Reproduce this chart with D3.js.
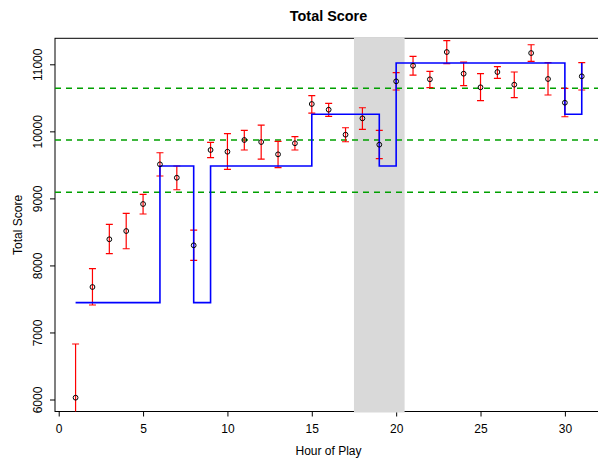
<!DOCTYPE html>
<html>
<head>
<meta charset="utf-8">
<script src="https://cdn.jsdelivr.net/npm/d3@7"></script>
<style>
  html, body { margin: 0; padding: 0; background: #fff; }
  svg text { font-family: "Liberation Sans", Arial, Helvetica, sans-serif; fill: #000; }
</style>
</head>
<body>
<svg id="chart" width="598" height="459"></svg>
<script>
// ---- data ----
const hours = [1,2,3,4,5,6,7,8,9,10,11,12,13,14,15,16,17,18,19,20,21,22,23,24,25,26,27,28,29,30,31];
const scores = [6027,7678,8390,8513,8916,9508,9308,8300,9722,9696,9871,9841,9657,9822,10408,10323,9950,10194,9801,10746,10979,10776,11183,10860,10657,10885,10696,11168,10781,10427,10821];
const upper  = [6828,7951,8613,8777,9061,9681,9483,8528,9836,9965,10015,10094,9851,9920,10532,10418,10054,10352,10015,10875,11119,10895,11352,11034,10860,10964,10885,11292,11024,10642,11024];
const lower  = [5226,7410,8175,8249,8767,9334,9129,8076,9607,9434,9722,9587,9458,9722,10273,10224,9845,10030,9592,10617,10840,10651,11009,10681,10457,10791,10502,11045,10542,10218,10617];
const stepX = [1,6,8,9,15,19,20,30,31];
const stepY = [7445,9483,7445,9483,10254,9483,11019,10254,11019];
const refLines = [10642,9871,9091];
const shadeRange = [17.5,20.5];
const xTicks = [0,5,10,15,20,25,30];
const yTicks = [6000,7000,8000,9000,10000,11000];
const titleText = "Total Score";
const xLabel = "Hour of Play";
const yLabel = "Total Score";

// ---- layout ----
const L = 55, R = 602, T = 38.3, B = 411.5;
const svg = d3.select("#chart");
const x = d3.scaleLinear().domain([-0.22, 32.2]).range([L, R]);
const y = d3.scaleLinear().domain([5821, 11388]).range([B, T]);

svg.append("defs").append("clipPath").attr("id","clip")
  .append("rect").attr("x",L).attr("y",T).attr("width",R-L).attr("height",B-T);

// axes
const xAxis = svg.append("g").attr("transform",`translate(0,${B})`)
  .call(d3.axisBottom(x).tickValues(xTicks).tickSize(5).tickPadding(9).tickFormat(d3.format("d")));
const yAxis = svg.append("g").attr("transform",`translate(${L},0)`)
  .call(d3.axisLeft(y).tickValues(yTicks).tickSize(5).tickFormat(d3.format("d")));
[xAxis,yAxis].forEach(g=>{
  g.select(".domain").remove();
  g.selectAll("line").attr("stroke","#000").attr("stroke-width",1);
  g.selectAll("text").attr("font-size","12px").attr("fill","#000")
   .style("font-family","'Liberation Sans', Arial, sans-serif");
});
xAxis.selectAll("text").attr("dy",null).attr("y",21.5);
yAxis.selectAll(".tick text").attr("x",0).attr("y",0).attr("dy",null)
  .attr("text-anchor","middle")
  .attr("transform","translate(-13.5,0) rotate(-90)");

// box
svg.append("rect").attr("x",L).attr("y",T).attr("width",R-L).attr("height",B-T)
  .attr("fill","none").attr("stroke","#000").attr("stroke-width",1);

// shaded region (covers the box lines)
svg.append("rect")
  .attr("x",x(shadeRange[0])).attr("width",x(shadeRange[1])-x(shadeRange[0]))
  .attr("y",T-1).attr("height",B-T+2)
  .attr("fill","#D9D9D9");

const plot = svg.append("g").attr("clip-path","url(#clip)");

// reference dashed lines
plot.selectAll(".ref").data(refLines).enter().append("line")
  .attr("x1",L).attr("x2",R).attr("y1",d=>y(d)).attr("y2",d=>y(d))
  .attr("stroke","#00A000").attr("stroke-width",1.5).attr("stroke-dasharray","6,5");

// error bars
const cap = 3.5;
const eb = plot.selectAll(".eb").data(hours).enter().append("g");
eb.append("line").attr("x1",(d)=>x(d)).attr("x2",(d)=>x(d))
  .attr("y1",(d,i)=>y(lower[i])).attr("y2",(d,i)=>y(upper[i]))
  .attr("stroke","#FF0000").attr("stroke-width",1.2);
eb.append("line").attr("x1",d=>x(d)-cap).attr("x2",d=>x(d)+cap)
  .attr("y1",(d,i)=>y(upper[i])).attr("y2",(d,i)=>y(upper[i]))
  .attr("stroke","#FF0000").attr("stroke-width",1.2);
eb.append("line").attr("x1",d=>x(d)-cap).attr("x2",d=>x(d)+cap)
  .attr("y1",(d,i)=>y(lower[i])).attr("y2",(d,i)=>y(lower[i]))
  .attr("stroke","#FF0000").attr("stroke-width",1.2);

// step line
const stepData = stepX.map((d,i)=>[d,stepY[i]]);
plot.append("path").datum(stepData)
  .attr("d", d3.line().x(d=>x(d[0])).y(d=>y(d[1])).curve(d3.curveStepAfter))
  .attr("fill","none").attr("stroke","#0000FF").attr("stroke-width",1.6);

// points
plot.selectAll(".pt").data(hours).enter().append("circle")
  .attr("cx",d=>x(d)).attr("cy",(d,i)=>y(scores[i])).attr("r",2.4)
  .attr("fill","none").attr("stroke","#000").attr("stroke-width",1);

// titles
svg.append("text").attr("x",(L+R)/2).attr("y",21).attr("text-anchor","middle")
  .attr("font-size","14.4px").attr("font-weight","bold").text(titleText);
svg.append("text").attr("x",(L+R)/2).attr("y",454.5).attr("text-anchor","middle")
  .attr("font-size","12px").text(xLabel);
svg.append("text").attr("transform",`translate(21.5,${(T+B)/2}) rotate(-90)`)
  .attr("text-anchor","middle").attr("font-size","12px").text(yLabel);
</script>
</body>
</html>
